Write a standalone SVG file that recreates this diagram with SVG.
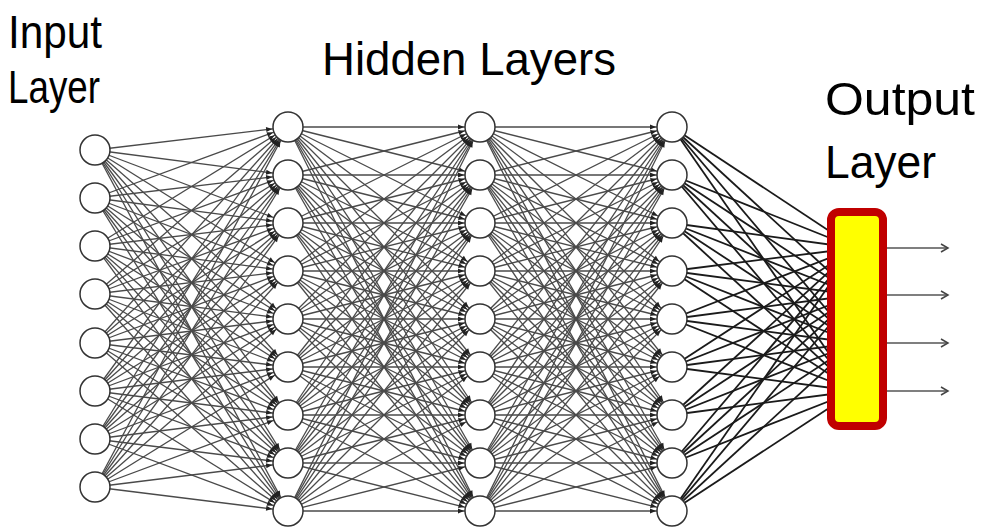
<svg xmlns="http://www.w3.org/2000/svg" width="982" height="527" viewBox="0 0 982 527">
<style>
.t{font-family:"Liberation Sans",Arial,sans-serif;font-size:47px;fill:#000}
.e line{stroke:#4a4a4a;stroke-width:1.3;marker-end:url(#ah)}
.o line{stroke:#1a1a1a;stroke-width:1.8}
.n circle{fill:#fff;stroke:#333;stroke-width:1.5}
.out line{stroke:#555;stroke-width:1.6;marker-end:url(#oa)}
</style>
<defs>
<marker id="ah" markerUnits="userSpaceOnUse" markerWidth="32" markerHeight="10" viewBox="0 -5 32 10" refX="32" refY="0" orient="auto" overflow="visible"><path d="M10,-2.5 L16,0 L10,2.5 z" fill="#222"/></marker>
<marker id="oa" markerUnits="userSpaceOnUse" markerWidth="10" markerHeight="10" viewBox="-9 -5 10 10" refX="0" refY="0" orient="auto" overflow="visible"><path d="M-7,-4 L0,0 L-7,4" fill="none" stroke="#444" stroke-width="1.5"/></marker>
</defs>
<rect width="982" height="527" fill="#fff"/>
<g id="connectors">
<g class="e">
<line x1="95" y1="150" x2="288" y2="127"/><line x1="95" y1="150" x2="288" y2="175"/><line x1="95" y1="150" x2="288" y2="223"/><line x1="95" y1="150" x2="288" y2="271"/><line x1="95" y1="150" x2="288" y2="319"/><line x1="95" y1="150" x2="288" y2="367"/><line x1="95" y1="150" x2="288" y2="415"/><line x1="95" y1="150" x2="288" y2="463"/><line x1="95" y1="150" x2="288" y2="511"/>
<line x1="95" y1="198" x2="288" y2="127"/><line x1="95" y1="198" x2="288" y2="175"/><line x1="95" y1="198" x2="288" y2="223"/><line x1="95" y1="198" x2="288" y2="271"/><line x1="95" y1="198" x2="288" y2="319"/><line x1="95" y1="198" x2="288" y2="367"/><line x1="95" y1="198" x2="288" y2="415"/><line x1="95" y1="198" x2="288" y2="463"/><line x1="95" y1="198" x2="288" y2="511"/>
<line x1="95" y1="246" x2="288" y2="127"/><line x1="95" y1="246" x2="288" y2="175"/><line x1="95" y1="246" x2="288" y2="223"/><line x1="95" y1="246" x2="288" y2="271"/><line x1="95" y1="246" x2="288" y2="319"/><line x1="95" y1="246" x2="288" y2="367"/><line x1="95" y1="246" x2="288" y2="415"/><line x1="95" y1="246" x2="288" y2="463"/><line x1="95" y1="246" x2="288" y2="511"/>
<line x1="95" y1="294" x2="288" y2="127"/><line x1="95" y1="294" x2="288" y2="175"/><line x1="95" y1="294" x2="288" y2="223"/><line x1="95" y1="294" x2="288" y2="271"/><line x1="95" y1="294" x2="288" y2="319"/><line x1="95" y1="294" x2="288" y2="367"/><line x1="95" y1="294" x2="288" y2="415"/><line x1="95" y1="294" x2="288" y2="463"/><line x1="95" y1="294" x2="288" y2="511"/>
<line x1="95" y1="343" x2="288" y2="127"/><line x1="95" y1="343" x2="288" y2="175"/><line x1="95" y1="343" x2="288" y2="223"/><line x1="95" y1="343" x2="288" y2="271"/><line x1="95" y1="343" x2="288" y2="319"/><line x1="95" y1="343" x2="288" y2="367"/><line x1="95" y1="343" x2="288" y2="415"/><line x1="95" y1="343" x2="288" y2="463"/><line x1="95" y1="343" x2="288" y2="511"/>
<line x1="95" y1="391" x2="288" y2="127"/><line x1="95" y1="391" x2="288" y2="175"/><line x1="95" y1="391" x2="288" y2="223"/><line x1="95" y1="391" x2="288" y2="271"/><line x1="95" y1="391" x2="288" y2="319"/><line x1="95" y1="391" x2="288" y2="367"/><line x1="95" y1="391" x2="288" y2="415"/><line x1="95" y1="391" x2="288" y2="463"/><line x1="95" y1="391" x2="288" y2="511"/>
<line x1="95" y1="439" x2="288" y2="127"/><line x1="95" y1="439" x2="288" y2="175"/><line x1="95" y1="439" x2="288" y2="223"/><line x1="95" y1="439" x2="288" y2="271"/><line x1="95" y1="439" x2="288" y2="319"/><line x1="95" y1="439" x2="288" y2="367"/><line x1="95" y1="439" x2="288" y2="415"/><line x1="95" y1="439" x2="288" y2="463"/><line x1="95" y1="439" x2="288" y2="511"/>
<line x1="95" y1="487" x2="288" y2="127"/><line x1="95" y1="487" x2="288" y2="175"/><line x1="95" y1="487" x2="288" y2="223"/><line x1="95" y1="487" x2="288" y2="271"/><line x1="95" y1="487" x2="288" y2="319"/><line x1="95" y1="487" x2="288" y2="367"/><line x1="95" y1="487" x2="288" y2="415"/><line x1="95" y1="487" x2="288" y2="463"/><line x1="95" y1="487" x2="288" y2="511"/>
</g>
<g class="e">
<line x1="288" y1="127" x2="480" y2="127"/><line x1="288" y1="127" x2="480" y2="175"/><line x1="288" y1="127" x2="480" y2="223"/><line x1="288" y1="127" x2="480" y2="271"/><line x1="288" y1="127" x2="480" y2="319"/><line x1="288" y1="127" x2="480" y2="367"/><line x1="288" y1="127" x2="480" y2="415"/><line x1="288" y1="127" x2="480" y2="463"/><line x1="288" y1="127" x2="480" y2="511"/>
<line x1="288" y1="175" x2="480" y2="127"/><line x1="288" y1="175" x2="480" y2="175"/><line x1="288" y1="175" x2="480" y2="223"/><line x1="288" y1="175" x2="480" y2="271"/><line x1="288" y1="175" x2="480" y2="319"/><line x1="288" y1="175" x2="480" y2="367"/><line x1="288" y1="175" x2="480" y2="415"/><line x1="288" y1="175" x2="480" y2="463"/><line x1="288" y1="175" x2="480" y2="511"/>
<line x1="288" y1="223" x2="480" y2="127"/><line x1="288" y1="223" x2="480" y2="175"/><line x1="288" y1="223" x2="480" y2="223"/><line x1="288" y1="223" x2="480" y2="271"/><line x1="288" y1="223" x2="480" y2="319"/><line x1="288" y1="223" x2="480" y2="367"/><line x1="288" y1="223" x2="480" y2="415"/><line x1="288" y1="223" x2="480" y2="463"/><line x1="288" y1="223" x2="480" y2="511"/>
<line x1="288" y1="271" x2="480" y2="127"/><line x1="288" y1="271" x2="480" y2="175"/><line x1="288" y1="271" x2="480" y2="223"/><line x1="288" y1="271" x2="480" y2="271"/><line x1="288" y1="271" x2="480" y2="319"/><line x1="288" y1="271" x2="480" y2="367"/><line x1="288" y1="271" x2="480" y2="415"/><line x1="288" y1="271" x2="480" y2="463"/><line x1="288" y1="271" x2="480" y2="511"/>
<line x1="288" y1="319" x2="480" y2="127"/><line x1="288" y1="319" x2="480" y2="175"/><line x1="288" y1="319" x2="480" y2="223"/><line x1="288" y1="319" x2="480" y2="271"/><line x1="288" y1="319" x2="480" y2="319"/><line x1="288" y1="319" x2="480" y2="367"/><line x1="288" y1="319" x2="480" y2="415"/><line x1="288" y1="319" x2="480" y2="463"/><line x1="288" y1="319" x2="480" y2="511"/>
<line x1="288" y1="367" x2="480" y2="127"/><line x1="288" y1="367" x2="480" y2="175"/><line x1="288" y1="367" x2="480" y2="223"/><line x1="288" y1="367" x2="480" y2="271"/><line x1="288" y1="367" x2="480" y2="319"/><line x1="288" y1="367" x2="480" y2="367"/><line x1="288" y1="367" x2="480" y2="415"/><line x1="288" y1="367" x2="480" y2="463"/><line x1="288" y1="367" x2="480" y2="511"/>
<line x1="288" y1="415" x2="480" y2="127"/><line x1="288" y1="415" x2="480" y2="175"/><line x1="288" y1="415" x2="480" y2="223"/><line x1="288" y1="415" x2="480" y2="271"/><line x1="288" y1="415" x2="480" y2="319"/><line x1="288" y1="415" x2="480" y2="367"/><line x1="288" y1="415" x2="480" y2="415"/><line x1="288" y1="415" x2="480" y2="463"/><line x1="288" y1="415" x2="480" y2="511"/>
<line x1="288" y1="463" x2="480" y2="127"/><line x1="288" y1="463" x2="480" y2="175"/><line x1="288" y1="463" x2="480" y2="223"/><line x1="288" y1="463" x2="480" y2="271"/><line x1="288" y1="463" x2="480" y2="319"/><line x1="288" y1="463" x2="480" y2="367"/><line x1="288" y1="463" x2="480" y2="415"/><line x1="288" y1="463" x2="480" y2="463"/><line x1="288" y1="463" x2="480" y2="511"/>
<line x1="288" y1="511" x2="480" y2="127"/><line x1="288" y1="511" x2="480" y2="175"/><line x1="288" y1="511" x2="480" y2="223"/><line x1="288" y1="511" x2="480" y2="271"/><line x1="288" y1="511" x2="480" y2="319"/><line x1="288" y1="511" x2="480" y2="367"/><line x1="288" y1="511" x2="480" y2="415"/><line x1="288" y1="511" x2="480" y2="463"/><line x1="288" y1="511" x2="480" y2="511"/>
</g>
<g class="e">
<line x1="480" y1="127" x2="672" y2="127"/><line x1="480" y1="127" x2="672" y2="175"/><line x1="480" y1="127" x2="672" y2="223"/><line x1="480" y1="127" x2="672" y2="271"/><line x1="480" y1="127" x2="672" y2="319"/><line x1="480" y1="127" x2="672" y2="367"/><line x1="480" y1="127" x2="672" y2="415"/><line x1="480" y1="127" x2="672" y2="463"/><line x1="480" y1="127" x2="672" y2="511"/>
<line x1="480" y1="175" x2="672" y2="127"/><line x1="480" y1="175" x2="672" y2="175"/><line x1="480" y1="175" x2="672" y2="223"/><line x1="480" y1="175" x2="672" y2="271"/><line x1="480" y1="175" x2="672" y2="319"/><line x1="480" y1="175" x2="672" y2="367"/><line x1="480" y1="175" x2="672" y2="415"/><line x1="480" y1="175" x2="672" y2="463"/><line x1="480" y1="175" x2="672" y2="511"/>
<line x1="480" y1="223" x2="672" y2="127"/><line x1="480" y1="223" x2="672" y2="175"/><line x1="480" y1="223" x2="672" y2="223"/><line x1="480" y1="223" x2="672" y2="271"/><line x1="480" y1="223" x2="672" y2="319"/><line x1="480" y1="223" x2="672" y2="367"/><line x1="480" y1="223" x2="672" y2="415"/><line x1="480" y1="223" x2="672" y2="463"/><line x1="480" y1="223" x2="672" y2="511"/>
<line x1="480" y1="271" x2="672" y2="127"/><line x1="480" y1="271" x2="672" y2="175"/><line x1="480" y1="271" x2="672" y2="223"/><line x1="480" y1="271" x2="672" y2="271"/><line x1="480" y1="271" x2="672" y2="319"/><line x1="480" y1="271" x2="672" y2="367"/><line x1="480" y1="271" x2="672" y2="415"/><line x1="480" y1="271" x2="672" y2="463"/><line x1="480" y1="271" x2="672" y2="511"/>
<line x1="480" y1="319" x2="672" y2="127"/><line x1="480" y1="319" x2="672" y2="175"/><line x1="480" y1="319" x2="672" y2="223"/><line x1="480" y1="319" x2="672" y2="271"/><line x1="480" y1="319" x2="672" y2="319"/><line x1="480" y1="319" x2="672" y2="367"/><line x1="480" y1="319" x2="672" y2="415"/><line x1="480" y1="319" x2="672" y2="463"/><line x1="480" y1="319" x2="672" y2="511"/>
<line x1="480" y1="367" x2="672" y2="127"/><line x1="480" y1="367" x2="672" y2="175"/><line x1="480" y1="367" x2="672" y2="223"/><line x1="480" y1="367" x2="672" y2="271"/><line x1="480" y1="367" x2="672" y2="319"/><line x1="480" y1="367" x2="672" y2="367"/><line x1="480" y1="367" x2="672" y2="415"/><line x1="480" y1="367" x2="672" y2="463"/><line x1="480" y1="367" x2="672" y2="511"/>
<line x1="480" y1="415" x2="672" y2="127"/><line x1="480" y1="415" x2="672" y2="175"/><line x1="480" y1="415" x2="672" y2="223"/><line x1="480" y1="415" x2="672" y2="271"/><line x1="480" y1="415" x2="672" y2="319"/><line x1="480" y1="415" x2="672" y2="367"/><line x1="480" y1="415" x2="672" y2="415"/><line x1="480" y1="415" x2="672" y2="463"/><line x1="480" y1="415" x2="672" y2="511"/>
<line x1="480" y1="463" x2="672" y2="127"/><line x1="480" y1="463" x2="672" y2="175"/><line x1="480" y1="463" x2="672" y2="223"/><line x1="480" y1="463" x2="672" y2="271"/><line x1="480" y1="463" x2="672" y2="319"/><line x1="480" y1="463" x2="672" y2="367"/><line x1="480" y1="463" x2="672" y2="415"/><line x1="480" y1="463" x2="672" y2="463"/><line x1="480" y1="463" x2="672" y2="511"/>
<line x1="480" y1="511" x2="672" y2="127"/><line x1="480" y1="511" x2="672" y2="175"/><line x1="480" y1="511" x2="672" y2="223"/><line x1="480" y1="511" x2="672" y2="271"/><line x1="480" y1="511" x2="672" y2="319"/><line x1="480" y1="511" x2="672" y2="367"/><line x1="480" y1="511" x2="672" y2="415"/><line x1="480" y1="511" x2="672" y2="463"/><line x1="480" y1="511" x2="672" y2="511"/>
</g>
<g class="o">
<line x1="672" y1="127" x2="855" y2="248"/><line x1="672" y1="127" x2="855" y2="295"/><line x1="672" y1="127" x2="855" y2="343"/><line x1="672" y1="127" x2="855" y2="391"/>
<line x1="672" y1="175" x2="855" y2="248"/><line x1="672" y1="175" x2="855" y2="295"/><line x1="672" y1="175" x2="855" y2="343"/><line x1="672" y1="175" x2="855" y2="391"/>
<line x1="672" y1="223" x2="855" y2="248"/><line x1="672" y1="223" x2="855" y2="295"/><line x1="672" y1="223" x2="855" y2="343"/><line x1="672" y1="223" x2="855" y2="391"/>
<line x1="672" y1="271" x2="855" y2="248"/><line x1="672" y1="271" x2="855" y2="295"/><line x1="672" y1="271" x2="855" y2="343"/><line x1="672" y1="271" x2="855" y2="391"/>
<line x1="672" y1="319" x2="855" y2="248"/><line x1="672" y1="319" x2="855" y2="295"/><line x1="672" y1="319" x2="855" y2="343"/><line x1="672" y1="319" x2="855" y2="391"/>
<line x1="672" y1="367" x2="855" y2="248"/><line x1="672" y1="367" x2="855" y2="295"/><line x1="672" y1="367" x2="855" y2="343"/><line x1="672" y1="367" x2="855" y2="391"/>
<line x1="672" y1="415" x2="855" y2="248"/><line x1="672" y1="415" x2="855" y2="295"/><line x1="672" y1="415" x2="855" y2="343"/><line x1="672" y1="415" x2="855" y2="391"/>
<line x1="672" y1="463" x2="855" y2="248"/><line x1="672" y1="463" x2="855" y2="295"/><line x1="672" y1="463" x2="855" y2="343"/><line x1="672" y1="463" x2="855" y2="391"/>
<line x1="672" y1="511" x2="855" y2="248"/><line x1="672" y1="511" x2="855" y2="295"/><line x1="672" y1="511" x2="855" y2="343"/><line x1="672" y1="511" x2="855" y2="391"/>
</g>
<g class="out">
<line x1="887" y1="248" x2="948" y2="248"/><line x1="887" y1="295" x2="948" y2="295"/><line x1="887" y1="343" x2="948" y2="343"/><line x1="887" y1="391" x2="948" y2="391"/>
</g>
</g>
<g id="input-layer" class="n">
<circle cx="95" cy="150" r="15"/><circle cx="95" cy="198" r="15"/><circle cx="95" cy="246" r="15"/><circle cx="95" cy="294" r="15"/><circle cx="95" cy="343" r="15"/><circle cx="95" cy="391" r="15"/><circle cx="95" cy="439" r="15"/><circle cx="95" cy="487" r="15"/>
</g>
<g id="hidden-layer-1" class="n">
<circle cx="288" cy="127" r="15"/><circle cx="288" cy="175" r="15"/><circle cx="288" cy="223" r="15"/><circle cx="288" cy="271" r="15"/><circle cx="288" cy="319" r="15"/><circle cx="288" cy="367" r="15"/><circle cx="288" cy="415" r="15"/><circle cx="288" cy="463" r="15"/><circle cx="288" cy="511" r="15"/>
</g>
<g id="hidden-layer-2" class="n">
<circle cx="480" cy="127" r="15"/><circle cx="480" cy="175" r="15"/><circle cx="480" cy="223" r="15"/><circle cx="480" cy="271" r="15"/><circle cx="480" cy="319" r="15"/><circle cx="480" cy="367" r="15"/><circle cx="480" cy="415" r="15"/><circle cx="480" cy="463" r="15"/><circle cx="480" cy="511" r="15"/>
</g>
<g id="hidden-layer-3" class="n">
<circle cx="672" cy="127" r="15"/><circle cx="672" cy="175" r="15"/><circle cx="672" cy="223" r="15"/><circle cx="672" cy="271" r="15"/><circle cx="672" cy="319" r="15"/><circle cx="672" cy="367" r="15"/><circle cx="672" cy="415" r="15"/><circle cx="672" cy="463" r="15"/><circle cx="672" cy="511" r="15"/>
</g>
<g id="output-layer">
<rect x="831" y="212" width="52" height="214" rx="8" fill="#ffff00" stroke="#c00000" stroke-width="8"/>
</g>
<g id="labels">
<text class="t" x="8" y="48" textLength="94" lengthAdjust="spacingAndGlyphs">Input</text>
<text class="t" x="8" y="103" textLength="92" lengthAdjust="spacingAndGlyphs">Layer</text>
<text class="t" x="322" y="75" textLength="294" lengthAdjust="spacingAndGlyphs">Hidden Layers</text>
<text class="t" x="825" y="115" textLength="150" lengthAdjust="spacingAndGlyphs">Output</text>
<text class="t" x="825" y="178" textLength="111" lengthAdjust="spacingAndGlyphs">Layer</text>
</g>
</svg>
